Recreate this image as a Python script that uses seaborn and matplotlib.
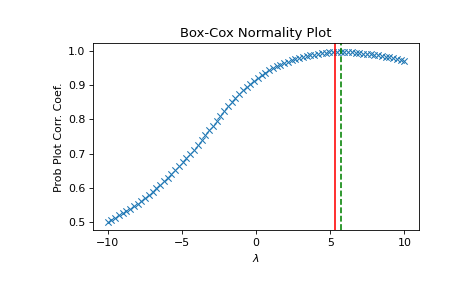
import numpy as np
import pandas as pd
import matplotlib
matplotlib.use("Agg")
import matplotlib.pyplot as plt
from matplotlib.ticker import MultipleLocator
import seaborn as sns

# lambda grid used by the normality plot (80 points, -10 .. 10)
lambdas = np.linspace(-10, 10, 80)

# probability plot correlation coefficient
ppcc = [0.500, 0.506, 0.512, 0.519, 0.525, 0.532, 0.539, 0.546, 0.554, 0.562,
        0.571, 0.580, 0.589, 0.599, 0.609, 0.619, 0.630, 0.641, 0.652, 0.663,
        0.675, 0.687, 0.700, 0.712, 0.726, 0.740, 0.754, 0.768, 0.782, 0.796,
        0.810, 0.824, 0.838, 0.850, 0.862, 0.874, 0.885, 0.895, 0.905, 0.914,
        0.922, 0.930, 0.937, 0.944, 0.950, 0.955, 0.960, 0.965, 0.969, 0.973,
        0.977, 0.980, 0.983, 0.986, 0.988, 0.990, 0.992, 0.994, 0.995, 0.996,
        0.997, 0.997, 0.998, 0.997, 0.997, 0.996, 0.995, 0.994, 0.993, 0.992,
        0.991, 0.989, 0.988, 0.986, 0.984, 0.982, 0.980, 0.978, 0.975, 0.972]

lmax_mle = 5.30
lmax_pearsonr = 5.70

df = pd.DataFrame({"lmbda": lambdas, "ppcc": ppcc})

plt.rcParams["font.size"] = 10.4

fig = plt.figure(figsize=(465 / 76, 288 / 76), dpi=76)
ax = fig.add_axes([0.1994, 0.1997, 0.7023, 0.65])

sns.scatterplot(data=df, x="lmbda", y="ppcc", marker="x", s=36,
                linewidth=1.0, color="C0", ax=ax)
ax.axvline(lmax_mle, color="r")
ax.axvline(lmax_pearsonr, color="g", ls="--")

ax.xaxis.set_major_locator(MultipleLocator(5))
ax.set_title("Box-Cox Normality Plot")
ax.set_xlabel("$\\lambda$")
ax.set_ylabel("Prob Plot Corr. Coef.")

fig.savefig("out.png", dpi=76)
